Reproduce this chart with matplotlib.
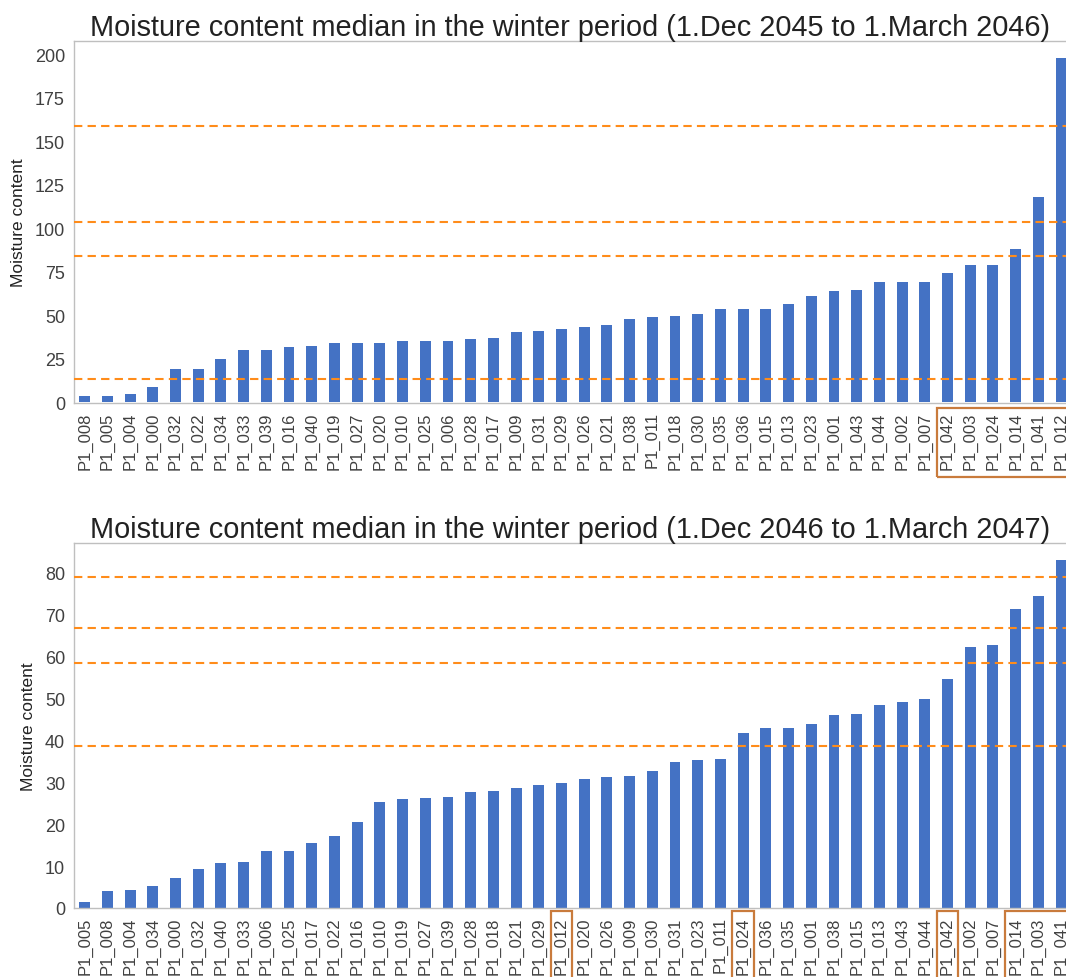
import matplotlib
matplotlib.use("Agg")
import matplotlib.pyplot as plt
from matplotlib.patches import Rectangle
import matplotlib.transforms as mtransforms

plt.rcParams['font.family'] = ['Liberation Sans', 'DejaVu Sans']

# ---- data: winter 2045/2046 ----
labels_1 = ["P1_008", "P1_005", "P1_004", "P1_000", "P1_032", "P1_022", "P1_034", "P1_033",
            "P1_039", "P1_016", "P1_040", "P1_019", "P1_027", "P1_020", "P1_010", "P1_025",
            "P1_006", "P1_028", "P1_017", "P1_009", "P1_031", "P1_029", "P1_026", "P1_021",
            "P1_038", "P1_011", "P1_018", "P1_030", "P1_035", "P1_036", "P1_015", "P1_013",
            "P1_023", "P1_001", "P1_043", "P1_044", "P1_002", "P1_007", "P1_042", "P1_003",
            "P1_024", "P1_014", "P1_041", "P1_012"]
values_1 = [3.5, 3.7, 4.8, 8.5, 18.8, 19.1, 24.9, 29.7, 30.2, 31.4, 32.3, 34.1, 34.1, 34.1,
            35.0, 35.0, 35.0, 36.0, 36.9, 40.2, 41.1, 41.9, 43.1, 44.2, 48.0, 48.8, 49.4,
            50.7, 53.6, 53.6, 53.6, 56.1, 60.9, 63.9, 64.5, 68.9, 68.9, 68.9, 74.3, 78.9,
            79.0, 87.8, 117.7, 197.7]
thresholds_1 = [158.8, 103.7, 83.8, 13.5]
boxes_1 = [("P1_042", "P1_012")]
title_1 = "Moisture content median in the winter period (1.Dec 2045 to 1.March 2046)"
yticks_1 = [0, 25, 50, 75, 100, 125, 150, 175, 200]

# ---- data: winter 2046/2047 ----
labels_2 = ["P1_005", "P1_008", "P1_004", "P1_034", "P1_000", "P1_032", "P1_040", "P1_033",
            "P1_006", "P1_025", "P1_017", "P1_022", "P1_016", "P1_010", "P1_019", "P1_027",
            "P1_039", "P1_028", "P1_018", "P1_021", "P1_029", "P1_012", "P1_020", "P1_026",
            "P1_009", "P1_030", "P1_031", "P1_023", "P1_011", "P1_024", "P1_036", "P1_035",
            "P1_001", "P1_038", "P1_015", "P1_013", "P1_043", "P1_044", "P1_042", "P1_002",
            "P1_007", "P1_014", "P1_003", "P1_041"]
values_2 = [1.4, 4.0, 4.4, 5.2, 7.2, 9.2, 10.7, 10.9, 13.7, 13.7, 15.4, 17.1, 20.5, 25.3,
            26.0, 26.2, 26.4, 27.7, 27.9, 28.7, 29.4, 29.8, 30.8, 31.2, 31.4, 32.6, 34.9,
            35.2, 35.4, 41.6, 42.9, 42.9, 43.9, 45.9, 46.2, 48.5, 49.0, 49.9, 54.5, 62.2,
            62.7, 71.2, 74.3, 82.9]
thresholds_2 = [78.8, 66.7, 58.4, 38.5]
boxes_2 = [("P1_012", "P1_012"), ("P1_024", "P1_024"), ("P1_042", "P1_042"), ("P1_014", "P1_041")]
title_2 = "Moisture content median in the winter period (1.Dec 2046 to 1.March 2047)"
yticks_2 = [0, 10, 20, 30, 40, 50, 60, 70, 80]

BAR = "#4472C4"
ORANGE = "#FF8C1A"
BOXC = "#C97B3C"
SPINE = "#BFBFBF"
TXT = "#404040"

fig = plt.figure(figsize=(10.66, 9.78), dpi=100)
W, H = 1066, 978


def make(ax, labels, values, thresholds, boxes, title, yticks, ylim, box_y):
    x = list(range(len(labels)))
    ax.bar(x, values, width=0.48, color=BAR, zorder=2)
    for t in thresholds:
        ax.axhline(t, color=ORANGE, linestyle=(0, (4, 2.5)), linewidth=1.5, zorder=3)
    ax.set_xlim(-0.47, 43.22)
    ax.set_ylim(*ylim)
    ax.set_xticks(x)
    ax.set_xticklabels(labels, rotation=90, fontsize=12, color=TXT)
    ax.set_yticks(yticks)
    ax.tick_params(axis='y', labelsize=13, colors=TXT, length=0, pad=6.5)
    ax.tick_params(axis='x', length=0, pad=6)
    ax.set_ylabel("Moisture content", fontsize=12.5, color="#222222", labelpad=6)
    ax.set_title(title, fontsize=20.8, color="#222222", pad=4)
    for s in ["top", "left", "bottom"]:
        ax.spines[s].set_color(SPINE)
        ax.spines[s].set_linewidth(1.0)
    ax.spines["right"].set_visible(False)
    trans = mtransforms.blended_transform_factory(ax.transData, ax.transAxes)
    for a, b in boxes:
        i0 = labels.index(a)
        i1 = labels.index(b)
        r = Rectangle((i0 - 0.47, box_y[0]), (i1 - i0) + 0.94 + (0.6 if i1 == len(labels) - 1 else 0),
                      box_y[1] - box_y[0], transform=trans, fill=False,
                      edgecolor=BOXC, linewidth=1.6, clip_on=False, zorder=5)
        ax.add_patch(r)


ax1 = fig.add_axes([74 / W, 1 - 404 / H, (W - 74) / W, (404 - 42) / H])
make(ax1, labels_1, values_1, thresholds_1, boxes_1, title_1, yticks_1, (-0.5, 207.5), (-0.204, -0.014))

ax2 = fig.add_axes([74 / W, 1 - 909 / H, (W - 74) / W, (909 - 544) / H])
make(ax2, labels_2, values_2, thresholds_2, boxes_2, title_2, yticks_2, (0, 87), (-0.30, -0.008))

fig.savefig("out.png", dpi=100)
